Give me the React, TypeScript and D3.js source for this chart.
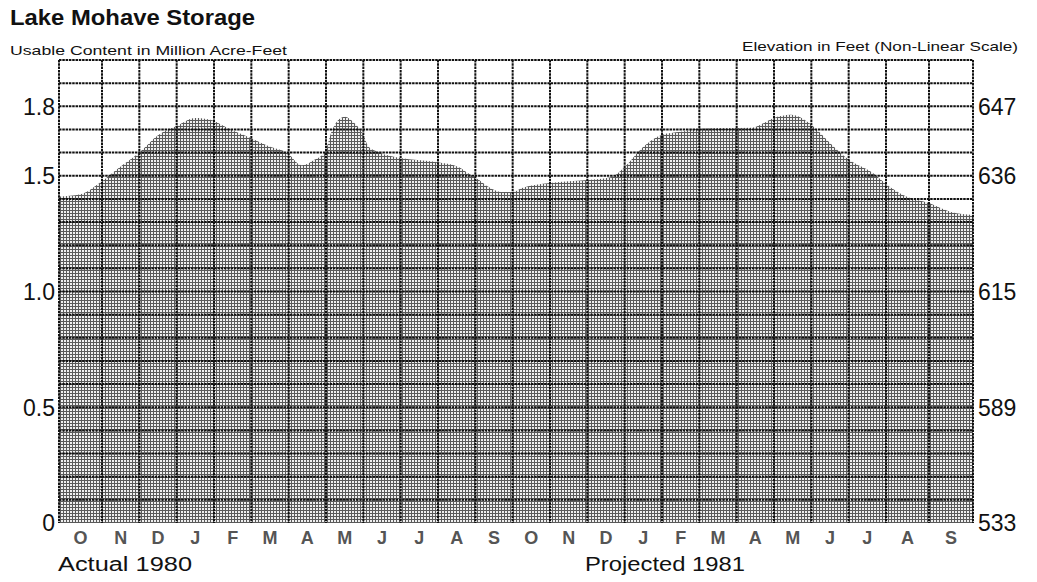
import React from "react";
import * as d3 from "d3";

// ---- data ----
const monthLabels = ["O","N","D","J","F","M","A","M","J","J","A","S","O","N","D","J","F","M","A","M","J","J","A","S"];
// position in months since 1 Oct 1979 (0..24)
const sampleMonths = [0, 0.5, 0.95, 1.5, 2.0, 2.5, 3.0, 3.5, 3.9, 4.5, 5.0, 5.5, 5.95, 6.35, 6.7, 6.97, 7.16, 7.3, 7.5, 7.76, 8.0, 8.14, 8.4, 9.0, 9.9, 10.55, 10.8, 11.1, 11.35, 11.7, 12.0, 12.25, 13.0, 14.0, 14.65, 15.0, 15.5, 16.0, 16.5, 17.0, 18.4, 19.0, 19.45, 20.0, 20.5, 21.0, 21.65, 22.1, 22.5, 23.0, 23.5, 24.0];
// usable content, million acre-feet
const storageMaf = [1.41, 1.42, 1.47, 1.54, 1.60, 1.675, 1.715, 1.75, 1.742, 1.695, 1.662, 1.625, 1.60, 1.545, 1.57, 1.603, 1.695, 1.735, 1.755, 1.728, 1.677, 1.625, 1.603, 1.577, 1.56, 1.538, 1.512, 1.482, 1.452, 1.43, 1.43, 1.447, 1.469, 1.482, 1.495, 1.538, 1.625, 1.677, 1.69, 1.703, 1.707, 1.75, 1.763, 1.72, 1.642, 1.57, 1.512, 1.45, 1.408, 1.382, 1.343, 1.33];
const leftTickValues = [0, 0.5, 1.0, 1.5, 1.8];
const leftTickLabels = ["0", "0.5", "1.0", "1.5", "1.8"];
const rightTickLabels = ["533", "589", "615", "636", "647"];
const gridStep = 0.1;
const yMax = 2.0;

const W = 1037, H = 582;
const L = 59, R = 973, T = 60, B = 523;
const FONT = "'Liberation Sans', Arial, Helvetica, sans-serif";

export default function App() {
  const x = d3.scaleLinear().domain([0, 1, 22, 23, 24]).range([L, L + 43, R - 87, R - 44, R]);
  const y = d3.scaleLinear().domain([0, yMax]).range([B, T]);
  const pts = sampleMonths.map((m, i) => [m, storageMaf[i]] as [number, number]);
  const area = d3.area<[number, number]>()
    .x(d => x(d[0]))
    .y0(y(0))
    .y1(d => y(d[1]))
    .curve(d3.curveMonotoneX);
  const hLines = d3.range(1, Math.round(yMax / gridStep) + 1).map(i => i * gridStep);
  const vLines = d3.range(0, monthLabels.length + 1);

  return (
    <svg width={W} height={H} style={{ position: "absolute", left: 0, top: 0, background: "#fff" }} fontFamily={FONT}>
      <defs>
        <pattern id="ht" width="3" height="3" patternUnits="userSpaceOnUse">
          <rect width="3" height="3" fill="#efefef" />
          <rect width="3" height="1" fill="#5a5a5a" />
          <rect width="1" height="3" fill="#5a5a5a" />
        </pattern>
      </defs>
      <rect width={W} height={H} fill="#fff" />
      <text x={10} y={25} fontSize={22} fontWeight="bold" fill="#111" textLength={245} lengthAdjust="spacingAndGlyphs">Lake Mohave Storage</text>
      <text x={10} y={55} fontSize={13.5} fill="#111" textLength={277} lengthAdjust="spacingAndGlyphs">Usable Content in Million Acre-Feet</text>
      <text x={742} y={51} fontSize={13.5} fill="#111" textLength={276} lengthAdjust="spacingAndGlyphs">Elevation in Feet (Non-Linear Scale)</text>

      <path d={area(pts) || ""} fill="url(#ht)" />

      {hLines.map(v => (
        <line key={"h" + v} x1={L} x2={R} y1={y(v)} y2={y(v)} stroke="#111" strokeWidth={2} strokeDasharray="2.5 0.8" />
      ))}
      {vLines.map(i => (
        <line key={"v" + i} x1={x(i)} x2={x(i)} y1={y(yMax)} y2={y(0)} stroke="#111" strokeWidth={2} strokeDasharray="2.5 0.8" />
      ))}

      {leftTickValues.map((v, i) => (
        <text key={"l" + i} x={55} y={y(v)} dy="0.36em" textAnchor="end" fontSize={23} fill="#111">{leftTickLabels[i]}</text>
      ))}
      {leftTickValues.map((v, i) => (
        <text key={"r" + i} x={978} y={y(v)} dy="0.36em" textAnchor="start" fontSize={23} fill="#111">{rightTickLabels[i]}</text>
      ))}

      {monthLabels.map((m, i) => (
        <text key={"m" + i} x={x(i + 0.5)} y={544} textAnchor="middle" fontSize={18} fontWeight="bold" fill="#555">{m}</text>
      ))}
      <text x={58} y={571} fontSize={20} fill="#111" textLength={134} lengthAdjust="spacingAndGlyphs">Actual 1980</text>
      <text x={585} y={571} fontSize={20} fill="#111" textLength={160} lengthAdjust="spacingAndGlyphs">Projected 1981</text>
    </svg>
  );
}
